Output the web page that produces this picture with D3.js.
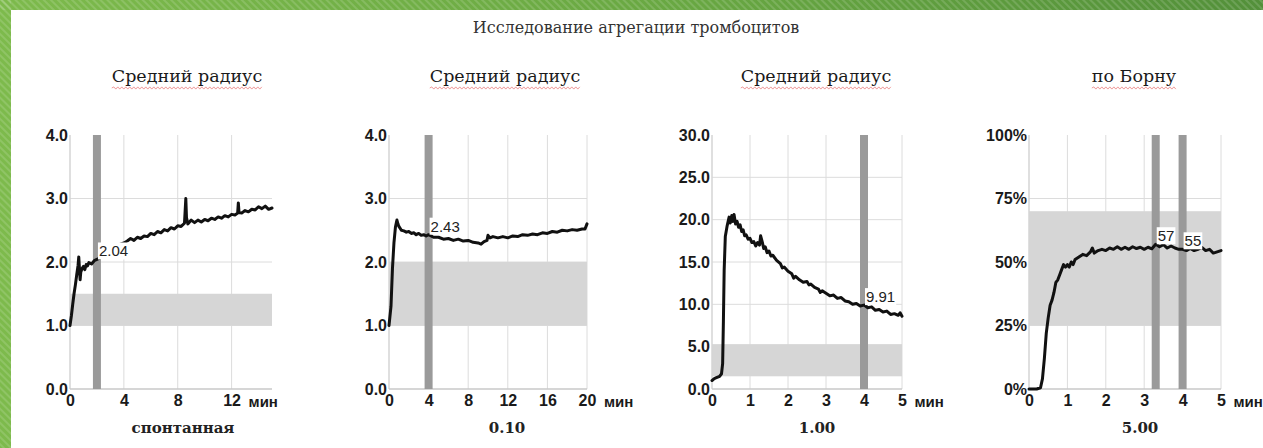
<!DOCTYPE html>
<html>
<head>
<meta charset="utf-8">
<script src="https://cdn.jsdelivr.net/npm/d3@7/dist/d3.min.js"></script>
<style>
  html, body { margin: 0; padding: 0; background: #fff; }
  svg { display: block; }
</style>
</head>
<body>
<svg id="chart" width="1263" height="448"></svg>
<script>
// ---- Data -------------------------------------------------------------
const mainTitle = "Исследование агрегации тромбоцитов";
const panelTitles = ["Средний радиус", "Средний радиус", "Средний радиус", "по Борну"];
const inducerLabels = ["спонтанная", "0.10", "1.00", "5.00"];
const unitLabel = "мин";

const xDomains = [[0, 15], [0, 20], [0, 5], [0, 5]];
const xTicks = [[0, 4, 8, 12], [0, 4, 8, 12, 16, 20], [0, 1, 2, 3, 4, 5], [0, 1, 2, 3, 4, 5]];
const yDomains = [[0, 4], [0, 4], [0, 30], [0, 100]];
const yTicks = [[0, 1, 2, 3, 4], [0, 1, 2, 3, 4], [0, 5, 10, 15, 20, 25, 30], [0, 25, 50, 75, 100]];

// reference ranges (shaded bands)
const normRanges = [[1.0, 1.5], [1.0, 2.0], [1.5, 5.3], [25, 70]];
// measurement cursors: time (min) and the value read there
const cursorTimes = [[2.0], [4.0], [4.0], [3.3, 4.0]];
const cursorValues = [[2.04], [2.43], [9.91], [57, 55]];

// aggregation curves: [time, value]
const curveSpontaneous = [
  [0, 1.0], [0.1, 1.15], [0.2, 1.33], [0.3, 1.5], [0.4, 1.64], [0.5, 1.8], [0.6, 1.95], [0.65, 2.08],
  [0.7, 1.9], [0.75, 1.72], [0.8, 1.84], [0.9, 1.9], [1.0, 1.93], [1.1, 1.88], [1.2, 1.96], [1.3, 1.94],
  [1.4, 1.99], [1.6, 1.97], [1.8, 2.02], [2.0, 2.04], [2.2, 2.06], [2.5, 2.1], [3.0, 2.2], [3.5, 2.26],
  [4.0, 2.3], [4.25, 2.33], [4.5, 2.37], [4.75, 2.34], [5.0, 2.39], [5.25, 2.37], [5.5, 2.41],
  [5.75, 2.4], [6.0, 2.45], [6.25, 2.43], [6.5, 2.48], [6.75, 2.46], [7.0, 2.51], [7.25, 2.49],
  [7.5, 2.54], [7.75, 2.52], [8.0, 2.57], [8.25, 2.56], [8.5, 2.61], [8.6, 3.0], [8.65, 2.7],
  [8.75, 2.6], [9.0, 2.66], [9.25, 2.62], [9.5, 2.66], [9.75, 2.63], [10.0, 2.67], [10.25, 2.65],
  [10.5, 2.69], [10.75, 2.67], [11.0, 2.71], [11.25, 2.69], [11.5, 2.73], [11.75, 2.71], [12.0, 2.75],
  [12.25, 2.74], [12.45, 2.77], [12.5, 2.93], [12.55, 2.78], [12.75, 2.77], [13.0, 2.81],
  [13.25, 2.79], [13.5, 2.83], [13.75, 2.82], [14.0, 2.87], [14.25, 2.84], [14.5, 2.88],
  [14.75, 2.83], [15.0, 2.85]
];
const curve010 = [
  [0, 1.0], [0.2, 1.3], [0.35, 1.9], [0.5, 2.3], [0.65, 2.55], [0.8, 2.66], [0.9, 2.6], [1.0, 2.56],
  [1.25, 2.5], [1.5, 2.49], [1.75, 2.47], [2.0, 2.48], [2.25, 2.45], [2.5, 2.46], [2.75, 2.43],
  [3.0, 2.45], [3.25, 2.42], [3.5, 2.43], [3.75, 2.41], [4.0, 2.43], [4.5, 2.39], [5.0, 2.39],
  [5.5, 2.36], [6.0, 2.37], [6.5, 2.34], [7.0, 2.36], [7.5, 2.33], [8.0, 2.34], [8.5, 2.31],
  [9.0, 2.3], [9.3, 2.28], [9.6, 2.32], [9.9, 2.34], [10.0, 2.42], [10.2, 2.38], [10.5, 2.4],
  [11.0, 2.38], [11.5, 2.4], [12.0, 2.38], [12.5, 2.41], [13.0, 2.4], [13.5, 2.43], [14.0, 2.42],
  [14.5, 2.44], [15.0, 2.43], [15.5, 2.46], [16.0, 2.45], [16.5, 2.48], [17.0, 2.47], [17.5, 2.5],
  [18.0, 2.49], [18.5, 2.51], [19.0, 2.5], [19.5, 2.52], [19.8, 2.52], [20.0, 2.6]
];
const curve100 = [
  [0, 1.0], [0.05, 1.2], [0.1, 1.3], [0.15, 1.4], [0.2, 1.5], [0.25, 1.8], [0.28, 3.0], [0.3, 8.0],
  [0.32, 14.0], [0.35, 18.0], [0.4, 19.3], [0.45, 20.3], [0.48, 19.6], [0.52, 20.5], [0.55, 19.8],
  [0.58, 20.6], [0.62, 19.5], [0.66, 19.8], [0.7, 19.1], [0.74, 19.4], [0.78, 18.6], [0.82, 18.8],
  [0.86, 18.1], [0.9, 18.2], [0.95, 17.7], [1.0, 17.8], [1.05, 17.3], [1.1, 17.4], [1.15, 16.9],
  [1.2, 17.3], [1.25, 17.0], [1.28, 18.1], [1.32, 17.4], [1.36, 16.6], [1.4, 16.8], [1.45, 16.1],
  [1.5, 16.3], [1.55, 15.7], [1.6, 15.8], [1.7, 15.2], [1.8, 14.8], [1.85, 14.3], [1.9, 14.4],
  [2.0, 13.9], [2.1, 13.6], [2.15, 13.1], [2.2, 13.3], [2.3, 12.9], [2.4, 12.6], [2.5, 12.7],
  [2.55, 12.3], [2.6, 12.4], [2.7, 12.0], [2.8, 11.8], [2.85, 11.4], [2.9, 11.6], [3.0, 11.3],
  [3.1, 11.0], [3.2, 11.1], [3.3, 10.7], [3.4, 10.8], [3.5, 10.4], [3.6, 10.3], [3.7, 10.0],
  [3.8, 10.1], [3.9, 9.8], [4.0, 9.91], [4.1, 9.6], [4.2, 9.7], [4.3, 9.3], [4.4, 9.4], [4.5, 9.1],
  [4.6, 9.2], [4.7, 8.8], [4.8, 8.9], [4.9, 8.7], [4.95, 9.0], [5.0, 8.6]
];
const curve500 = [
  [0, 0], [0.2, 0], [0.3, 0.5], [0.35, 4], [0.4, 12], [0.45, 22], [0.5, 28], [0.55, 33], [0.6, 35],
  [0.65, 38], [0.7, 42], [0.75, 43], [0.8, 45], [0.85, 47], [0.9, 49], [0.95, 48], [1.0, 49],
  [1.05, 48], [1.1, 50], [1.15, 49], [1.2, 51], [1.3, 52], [1.4, 53], [1.5, 52.5], [1.6, 54],
  [1.65, 55.5], [1.7, 53.5], [1.8, 54.5], [1.9, 55], [2.0, 54.5], [2.1, 55.5], [2.2, 55], [2.3, 56],
  [2.4, 55], [2.5, 55.8], [2.6, 55], [2.7, 56], [2.8, 55.3], [2.9, 55.8], [3.0, 55], [3.1, 55.8],
  [3.2, 55.2], [3.3, 57], [3.4, 56], [3.5, 56.8], [3.6, 55.5], [3.7, 56.3], [3.8, 55.5], [3.9, 55],
  [4.0, 55], [4.1, 54.5], [4.2, 55.3], [4.3, 54.5], [4.4, 55], [4.5, 55.8], [4.6, 54.5], [4.7, 55],
  [4.8, 53.5], [4.9, 54], [5.0, 54.5]
];
const curves = [curveSpontaneous, curve010, curve100, curve500];

// ---- Layout -----------------------------------------------------------
const plotTop = 135, plotBottom = 389;
const plotX = [[70, 272], [389, 587], [712, 902], [1029, 1221]];
const titleX = [187, 505, 816, 1134];
const inducerX = [183, 507, 817, 1140];
const yFormats = [d3.format(".1f"), d3.format(".1f"), d3.format(".1f"), d => d + "%"];

const svg = d3.select("#chart");
const defs = svg.append("defs");

// green striped frame along the top and left edges
const grad = defs.append("linearGradient").attr("id", "frameGrad")
  .attr("x1", 0).attr("y1", 0).attr("x2", 1).attr("y2", 0);
grad.append("stop").attr("offset", "0%").attr("stop-color", "#7dba4c");
grad.append("stop").attr("offset", "55%").attr("stop-color", "#68a742");
grad.append("stop").attr("offset", "100%").attr("stop-color", "#53903a");
const stripes = defs.append("pattern").attr("id", "frameStripes")
  .attr("patternUnits", "userSpaceOnUse").attr("width", 5).attr("height", 5)
  .attr("patternTransform", "rotate(-45)");
stripes.append("rect").attr("width", 2).attr("height", 5).attr("fill", "#ffffff").attr("opacity", 0.14);

svg.append("rect").attr("width", 1263).attr("height", 448).attr("fill", "#fff");
svg.append("rect").attr("x", 0).attr("y", 0).attr("width", 1263).attr("height", 10).attr("fill", "url(#frameGrad)");
svg.append("rect").attr("x", 0).attr("y", 0).attr("width", 11).attr("height", 448).attr("fill", "#7dba4c");
[[0, 0, 1263, 10], [0, 0, 11, 448]].forEach(([x, y, w, h]) => {
  svg.append("rect").attr("x", x).attr("y", y).attr("width", w).attr("height", h).attr("fill", "url(#frameStripes)");
});

const serif = "'DejaVu Serif', serif";
const textFont = "'Liberation Sans', Arial, sans-serif";

// main heading
svg.append("text")
  .attr("x", 636).attr("y", 33)
  .attr("text-anchor", "middle")
  .style("font-family", serif)
  .style("font-size", "16px")
  .attr("fill", "#333")
  .text(mainTitle);

function wavyUnderline(g, x0, x1, y) {
  let d = `M${x0},${y}`;
  let up = true;
  for (let x = x0 + 2; x <= x1; x += 2) {
    d += ` L${x},${y + (up ? -1.1 : 1.1)}`;
    up = !up;
  }
  g.append("path").attr("d", d).attr("fill", "none")
    .attr("stroke", "#e04848").attr("stroke-width", 0.8).attr("opacity", 0.7);
}

curves.forEach((curve, i) => {
  const [x0, x1] = plotX[i];
  const x = d3.scaleLinear().domain(xDomains[i]).range([x0, x1]);
  const y = d3.scaleLinear().domain(yDomains[i]).range([plotBottom, plotTop]);
  const g = svg.append("g");

  // panel heading with spell-check squiggle
  const t = g.append("text")
    .attr("x", titleX[i]).attr("y", 82)
    .attr("text-anchor", "middle")
    .style("font-family", serif)
    .style("font-size", "17.5px")
    .attr("fill", "#1a1a1a")
    .text(panelTitles[i]);
  const tb = t.node().getBBox();
  wavyUnderline(g, tb.x, tb.x + tb.width, 88);

  // grid
  g.append("g").selectAll("line").data(yTicks[i].filter(v => v > 0 && v < yDomains[i][1]))
    .join("line")
    .attr("x1", x0).attr("x2", x1)
    .attr("y1", d => y(d)).attr("y2", d => y(d))
    .attr("stroke", "#dcdcdc").attr("stroke-width", 1);
  g.append("g").selectAll("line").data(xTicks[i].filter(v => v > 0))
    .join("line")
    .attr("x1", d => x(d)).attr("x2", d => x(d))
    .attr("y1", plotTop).attr("y2", plotBottom)
    .attr("stroke", "#dcdcdc").attr("stroke-width", 1);

  // reference range band
  g.append("rect")
    .attr("x", x0).attr("width", x1 - x0)
    .attr("y", y(normRanges[i][1])).attr("height", y(normRanges[i][0]) - y(normRanges[i][1]))
    .attr("fill", "#d6d6d6");

  // axis lines
  g.append("line").attr("x1", x0).attr("x2", x0).attr("y1", plotTop).attr("y2", plotBottom)
    .attr("stroke", "#d4d4d4").attr("stroke-width", 1.5);
  g.append("line").attr("x1", x0).attr("x2", x1).attr("y1", plotBottom).attr("y2", plotBottom)
    .attr("stroke", "#c8c8c8").attr("stroke-width", 1.5);

  // cursor bars
  g.append("g").selectAll("rect").data(cursorTimes[i]).join("rect")
    .attr("x", d => x(d) - 4).attr("width", 8)
    .attr("y", plotTop).attr("height", plotBottom - plotTop)
    .attr("fill", "#9a9a9a");

  // curve
  g.append("path")
    .datum(curve)
    .attr("fill", "none")
    .attr("stroke", "#111")
    .attr("stroke-width", 3)
    .attr("stroke-linejoin", "round")
    .attr("stroke-linecap", "round")
    .attr("d", d3.line().x(d => x(d[0])).y(d => y(d[1])));

  // cursor value labels on a white box
  cursorTimes[i].forEach((ct, k) => {
    const lg = g.append("g");
    const lt = lg.append("text")
      .attr("x", x(ct) + 2).attr("y", y(cursorValues[i][k]) - 3)
      .style("font-family", textFont).style("font-size", "15px")
      .attr("fill", "#222")
      .text(String(cursorValues[i][k]));
    const b = lt.node().getBBox();
    lg.insert("rect", "text")
      .attr("x", b.x - 1).attr("y", b.y).attr("width", b.width + 2).attr("height", b.height)
      .attr("fill", "#fff");
  });

  // axes labels
  const yAxis = g.append("g").attr("transform", `translate(${x0 - 2},0)`)
    .call(d3.axisLeft(y).tickValues(yTicks[i]).tickFormat(yFormats[i]).tickSize(0).tickPadding(0));
  const xAxis = g.append("g").attr("transform", `translate(0,${plotBottom})`)
    .call(d3.axisBottom(x).tickValues(xTicks[i]).tickFormat(d3.format("d")).tickSize(0).tickPadding(6));
  [yAxis, xAxis].forEach(a => {
    a.select(".domain").remove();
    a.selectAll("text")
      .style("font-family", textFont).style("font-size", "16px").style("font-weight", "bold")
      .attr("fill", "#1a1a1a");
  });
  yAxis.raise();

  // unit label after the last time tick
  const lastTick = xAxis.selectAll(".tick text").nodes().pop();
  const lb = lastTick.getBBox();
  const lastX = x(xTicks[i][xTicks[i].length - 1]);
  g.append("text")
    .attr("x", lastX + lb.width / 2 + 8)
    .attr("y", plotBottom + 6 + 16 * 0.71 + 0.5)
    .style("font-family", textFont).style("font-size", "15px").style("font-weight", "bold")
    .attr("fill", "#1a1a1a")
    .text(unitLabel);

  // inducer / concentration caption
  g.append("text")
    .attr("x", inducerX[i]).attr("y", 433)
    .attr("text-anchor", "middle")
    .style("font-family", serif)
    .style("font-size", "15px").style("font-weight", "bold")
    .attr("fill", "#222")
    .text(inducerLabels[i]);
});
</script>
</body>
</html>
